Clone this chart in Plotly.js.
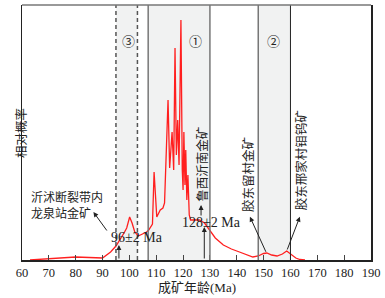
<!DOCTYPE html>
<html>
<head>
<meta charset="utf-8">
<script src="https://cdn.plot.ly/plotly-3.0.1.min.js"></script>
<style>html,body{margin:0;padding:0;background:#fff;}#chart{width:385px;height:298px;}</style>
</head>
<body>
<div id="chart"></div>
<script>
// Age (Ma) and relative probability (arbitrary units)
const ages = [63, 70, 80, 90, 93, 95, 96.5, 98, 99, 100.1, 101, 102, 103.3, 105, 106.4, 107.2, 108.6, 109.2, 109.8, 110.2, 111.5, 112.5, 113.1, 113.6, 114.4, 115.0, 115.9, 116.5, 117.0, 117.5, 118.0, 118.5, 119.2, 119.7, 120.0, 120.3, 120.7, 121.0, 121.4, 121.8, 122.3, 122.8, 124, 126, 128, 130, 132, 135, 138, 141, 144, 146, 148, 150, 151.2, 153, 155, 157, 158.6, 160, 162, 163.5, 165.4];
const prob = [0, 1, 3, 2, 8, 14, 20, 27, 32, 43, 37, 28, 24, 26, 28, 30, 36, 88, 55, 43, 50, 52, 57, 90, 160, 92, 128, 90, 212, 105, 140, 95, 240, 90, 70, 128, 75, 110, 60, 85, 45, 40, 40, 40, 37, 30, 22, 15, 11, 8, 5, 3, 4, 6.5, 7, 5, 4, 6, 9, 6, 2, 0.5, 0];

const zones = [[95, 103], [107, 130], [148, 160]];
const zoneLabels = ['③', '①', '②'];
const zoneLabelX = [99.5, 124.7, 153.5];

const tickVals = [60, 70, 80, 90, 100, 110, 120, 130, 140, 150, 160, 170, 180, 190];

const F = 'Liberation Serif, Noto Sans CJK SC, serif';
const TC = '#222';

const shapes = [];
zones.forEach(z => {
  shapes.push({type: 'rect', xref: 'x', yref: 'paper', x0: z[0], x1: z[1], y0: 0, y1: 1,
    fillcolor: '#f1f2f2', line: {width: 0}, layer: 'below'});
});
// zone borders
shapes.push({type: 'line', xref: 'x', yref: 'paper', x0: 95, x1: 95, y0: 0, y1: 1, line: {color: '#555', width: 1.5, dash: '4px,3px'}});
shapes.push({type: 'line', xref: 'x', yref: 'paper', x0: 103, x1: 103, y0: 0, y1: 1, line: {color: '#555', width: 1.5, dash: '4px,3px'}});
shapes.push({type: 'line', xref: 'x', yref: 'paper', x0: 107, x1: 107, y0: 0, y1: 1, line: {color: '#777', width: 1.5}});
shapes.push({type: 'line', xref: 'x', yref: 'paper', x0: 130, x1: 130, y0: 0, y1: 1, line: {color: '#777', width: 1.5}});
shapes.push({type: 'line', xref: 'x', yref: 'paper', x0: 148, x1: 148, y0: 0, y1: 1, line: {color: '#777', width: 1.5}});
shapes.push({type: 'line', xref: 'x', yref: 'paper', x0: 160, x1: 160, y0: 0, y1: 1, line: {color: '#222', width: 1}});
// top border
shapes.push({type: 'line', xref: 'paper', yref: 'paper', x0: 0, x1: 1, y0: 1, y1: 1, line: {color: '#777', width: 1.5}});

const annotations = [];
zoneLabels.forEach((t, i) => {
  annotations.push({x: zoneLabelX[i], y: 219, xref: 'x', yref: 'y', text: t, showarrow: false,
    font: {family: F, size: 13, color: TC}});
});
function arrow(x, y, ax, ay) {
  return {x: x, y: y, ax: ax, ay: ay, xref: 'x', yref: 'y', axref: 'x', ayref: 'y', text: '',
    showarrow: true, arrowhead: 2, arrowsize: 1, arrowwidth: 1, arrowcolor: '#222', standoff: 0, startstandoff: 0};
}
function txt(x, y, t, extra) {
  return Object.assign({x: x, y: y, xref: 'x', yref: 'y', text: t, showarrow: false,
    font: {family: F, size: 12.5, color: TC}}, extra || {});
}
annotations.push(txt(62.6, 54.5, '沂沭断裂带内<br>龙泉站金矿', {xanchor: 'left', align: 'left', font: {family: F, size: 12, color: TC}}));
annotations.push(arrow(86.6, 48, 92.0, 28));
annotations.push(txt(102.8, 23, '96±2 Ma', {font: {family: F, size: 14, color: TC}}));
annotations.push(arrow(96.1, 15, 96.1, 0));
annotations.push(txt(130.4, 38, '128±2 Ma', {font: {family: F, size: 14, color: TC}}));
annotations.push(arrow(127.9, 33, 127.9, 0));
annotations.push(txt(127.0, 96, '鲁西沂南金矿', {textangle: -90}));
annotations.push(arrow(126.7, 55, 126.7, 43));
annotations.push(txt(144.2, 85, '胶东留村金矿', {textangle: -90}));
annotations.push(arrow(144.9, 43.3, 151.1, 6.7));
annotations.push(txt(164.2, 99.5, '胶东邢家村钼钨矿', {textangle: -90}));
annotations.push(arrow(163.5, 43.3, 158.6, 9));
// axis titles
annotations.push({xref: 'paper', yref: 'paper', x: -0.029, y: 0.5, text: '相对概率', textangle: -90,
  showarrow: false, font: {family: F, size: 12.5, color: TC}});
annotations.push({xref: 'paper', yref: 'paper', x: 0.5, y: -0.106, yanchor: 'middle', text: '成矿年龄(Ma)',
  showarrow: false, font: {family: F, size: 13, color: TC}});

const trace = {x: ages, y: prob, type: 'scatter', mode: 'lines',
  line: {color: '#ff1f1f', width: 1.3}, hoverinfo: 'skip'};

const layout = {
  width: 385, height: 298,
  margin: {l: 22, r: 14, t: 5, b: 38},
  paper_bgcolor: '#fff', plot_bgcolor: '#fff',
  showlegend: false,
  xaxis: {range: [60, 190], tickvals: tickVals, ticktext: tickVals.map(String),
    ticks: 'inside', ticklen: 5, tickcolor: '#444', tickwidth: 1,
    showline: true, linecolor: '#222', linewidth: 1.5, mirror: false,
    showgrid: false, zeroline: false,
    tickfont: {family: F, size: 12.5, color: TC}},
  yaxis: {range: [0, 255], showticklabels: false, ticks: '', showgrid: false, zeroline: false,
    showline: true, linecolor: '#222', linewidth: 1.5, mirror: true},
  shapes: shapes,
  annotations: annotations
};
Plotly.newPlot('chart', [trace], layout, {staticPlot: true, displayModeBar: false});
</script>
</body>
</html>
